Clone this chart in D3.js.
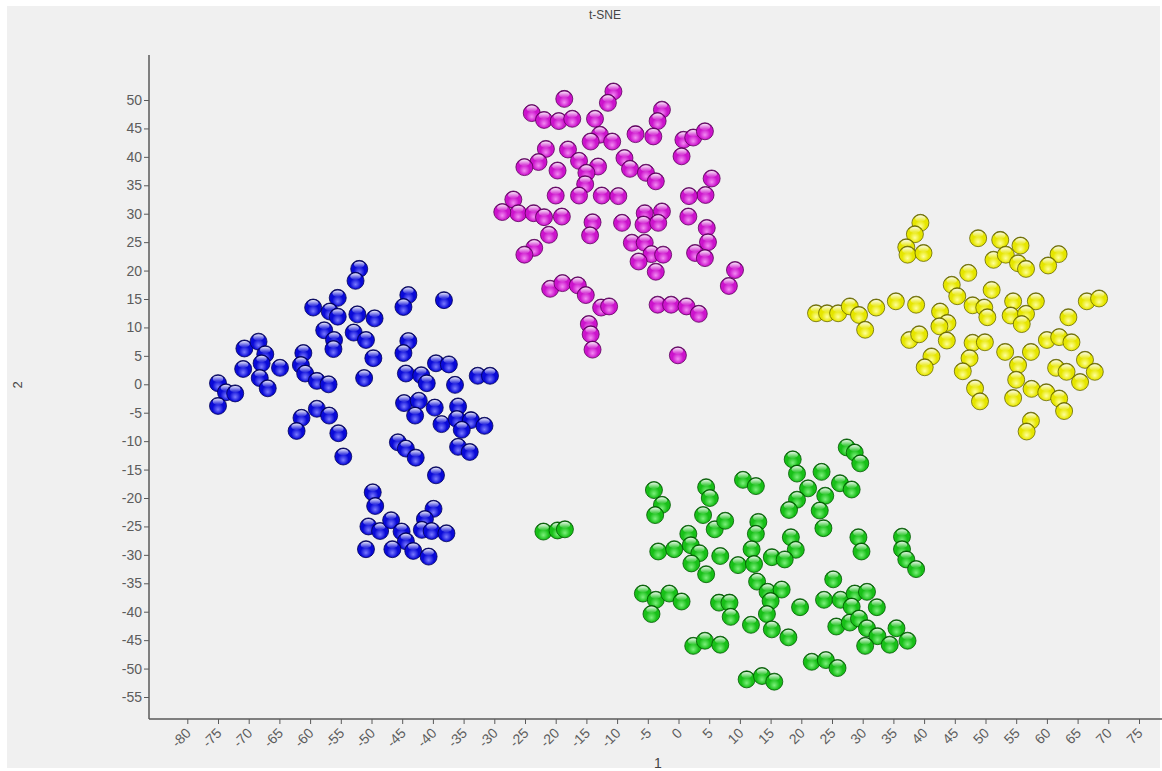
<!DOCTYPE html>
<html>
<head>
<meta charset="utf-8">
<script src="https://cdn.jsdelivr.net/npm/d3@7"></script>
<style>
  html, body { margin: 0; padding: 0; background: #ffffff; }
  svg { display: block; }
  text { font-family: "Liberation Sans", "DejaVu Sans", sans-serif; }
</style>
</head>
<body>
<svg id="chart" width="1162" height="771"></svg>
<script>
// t-SNE embedding, four groups: [dimension 1, dimension 2]
const blueX = [-52.0,-52.6,-55.5,-59.5,-56.8,-55.5,-52.3,-49.5,-57.7,-52.9,-50.9,-56.1,-56.2,-49.7,-44.0,-44.8,-38.2,-44.0,-44.8,-70.7,-68.4,-67.3,-67.9,-70.9,-64.9,-68.2,-66.9,-61.1,-61.5,-60.8,-58.9,-57.0,-75.0,-73.7,-72.2,-75.0,-51.2,-44.4,-41.9,-41.0,-39.5,-37.4,-36.4,-32.7,-30.7,-44.7,-42.3,-42.9,-39.7,-35.9,-38.6,-36.1,-33.8,-31.6,-35.3,-35.9,-34.0,-45.7,-44.4,-42.8,-39.5,-61.4,-58.9,-56.9,-62.2,-55.4,-54.6,-49.8,-49.4,-39.9,-41.3,-50.5,-48.6,-46.8,-45.1,-44.4,-41.8,-40.2,-37.8,-50.9,-46.6,-43.2,-40.7];
const blueY = [20.3,18.2,15.2,13.5,12.8,11.9,12.3,11.6,9.5,9.1,7.8,7.8,6.2,4.6,15.7,13.6,14.8,7.6,5.5,6.3,7.5,5.3,3.7,2.7,2.9,1.1,-0.7,5.5,3.4,1.9,0.6,0.0,0.2,-1.4,-1.6,-3.8,1.1,1.9,1.6,0.2,3.7,3.5,-0.1,1.5,1.5,-3.3,-2.9,-5.5,-4.1,-3.9,-7.0,-6.1,-6.3,-7.3,-8.0,-11.0,-11.9,-10.2,-11.3,-12.9,-16.0,-5.9,-4.3,-5.5,-8.2,-8.6,-12.7,-19.0,-21.4,-21.9,-23.7,-25.0,-25.8,-23.9,-25.9,-27.6,-25.6,-25.8,-26.2,-29.0,-29.0,-29.3,-30.3];

const magentaX = [-18.6,-10.6,-11.5,-23.9,-21.9,-19.5,-17.3,-13.6,-2.7,-3.4,-7.0,-4.1,-12.8,-14.3,-10.8,0.8,2.4,4.3,0.5,-21.6,-22.8,-25.1,-19.7,-18.0,-16.2,-13.1,-15.0,-15.2,-8.8,-7.9,-5.3,-3.7,5.4,4.4,1.7,-20.0,-16.2,-12.5,-9.8,-26.9,-26.1,-28.7,-23.6,-21.9,-19.0,-21.1,-23.5,-25.1,-14.0,-14.4,-9.2,-5.5,-2.7,-5.7,-3.3,1.6,4.6,4.8,2.7,4.3,-7.6,-5.5,-4.4,-2.5,-6.5,-3.7,-20.9,-18.9,-16.4,-15.1,-12.6,-11.3,-14.6,-14.3,-14.0,-3.4,-1.2,1.3,3.3,-0.1,8.2,9.2];
const magentaY = [50.2,51.5,49.5,47.7,46.5,46.3,46.7,46.7,48.3,46.3,44.0,43.6,43.9,42.7,42.7,43.0,43.4,44.5,40.1,41.4,39.1,38.2,37.6,41.3,39.3,38.3,37.2,35.2,39.8,37.9,37.2,35.7,36.2,33.3,33.1,33.2,33.2,33.2,33.1,32.5,30.1,30.3,30.1,29.4,29.5,26.3,24.0,22.8,28.5,26.2,28.4,30.1,30.4,28.1,28.4,29.5,27.5,25.0,23.1,22.2,24.9,24.9,22.9,22.8,21.6,19.8,16.8,17.8,17.4,15.7,13.5,13.7,10.6,8.8,6.1,14.0,14.0,13.7,12.4,5.1,17.3,20.1];

const yellowX = [39.4,38.5,37.1,37.3,39.9,48.8,52.4,55.7,51.3,53.3,55.3,56.6,61.9,60.2,47.2,44.5,45.4,51.0,47.9,49.8,50.3,54.5,58.2,54.1,56.6,55.9,66.5,68.5,63.5,22.4,24.2,26.0,27.9,29.4,32.2,30.4,35.4,38.7,42.6,43.8,42.5,43.7,37.6,39.2,41.2,40.1,47.9,49.9,47.4,46.3,48.3,49.1,53.2,57.4,55.3,55.0,54.5,57.5,59.9,62.0,62.8,60.0,62.0,64.0,61.5,63.2,66.2,67.8,65.4,57.4,56.7];
const yellowY = [28.4,26.4,24.1,22.8,23.1,25.7,25.4,24.4,21.9,22.8,21.3,20.3,22.9,20.9,19.6,17.5,15.5,16.6,13.9,13.5,11.8,14.6,14.6,12.1,12.4,10.6,14.6,15.1,11.8,12.5,12.5,12.5,13.7,12.2,13.5,9.6,14.6,14.0,12.8,10.8,10.2,7.7,7.8,8.8,4.9,3.0,7.3,7.4,4.6,2.3,-0.7,-3.0,5.7,5.7,3.4,0.8,-2.4,-0.8,-1.4,-2.5,-4.7,7.8,8.3,7.4,2.9,2.2,4.3,2.2,0.4,-6.4,-8.3];

const greenX = [-22.0,-19.7,-18.5,-4.0,-2.7,-3.8,4.5,5.1,4.0,5.9,7.6,10.5,12.6,18.6,19.3,23.3,21.1,19.3,18.0,23.9,23.0,23.6,26.3,28.2,27.4,28.7,29.6,29.3,29.8,36.4,36.4,37.1,38.7,13.0,12.6,18.3,19.1,11.9,15.2,17.3,9.7,12.3,1.6,2.0,3.4,-3.3,-0.7,2.1,4.5,6.8,12.8,14.5,16.8,15.0,14.4,11.8,15.2,17.9,19.8,25.2,23.7,26.4,28.7,30.7,28.2,32.3,25.7,27.9,29.4,30.7,32.4,30.4,34.4,35.5,37.3,-5.8,-3.7,-1.5,0.5,-4.4,6.6,8.3,8.5,2.4,4.3,6.8,21.7,24.0,25.9,11.1,13.6,15.6];
const greenY = [-25.9,-25.7,-25.5,-18.6,-21.2,-23.0,-18.1,-20.0,-23.0,-25.5,-24.0,-16.8,-17.9,-13.2,-15.7,-15.4,-18.3,-20.3,-22.1,-19.6,-22.2,-25.3,-17.4,-18.5,-11.1,-12.0,-13.9,-26.9,-29.4,-26.8,-29.0,-30.8,-32.5,-24.2,-26.3,-26.9,-29.1,-29.0,-30.4,-30.8,-31.8,-31.6,-26.3,-28.3,-29.7,-29.4,-29.0,-31.5,-33.4,-30.2,-34.7,-36.5,-36.1,-38.1,-40.4,-42.3,-43.1,-44.5,-39.2,-34.3,-37.9,-37.9,-36.8,-36.5,-39.1,-39.2,-42.6,-41.9,-41.2,-42.9,-44.3,-46.0,-45.8,-42.9,-45.1,-36.8,-37.9,-36.8,-38.2,-40.4,-38.4,-38.4,-40.9,-46.0,-45.1,-45.8,-48.8,-48.5,-49.9,-51.9,-51.3,-52.3];

// Axis ticks
const xTicks = d3.range(-80, 80, 5);
const yTicks = d3.range(-55, 55, 5);

const chartTitle = "t-SNE";
const xTitle = "1";
const yTitle = "2";

const groups = [
  { name: "blue",    xs: blueX,    ys: blueY,    light: "#7a7aff", base: "#0a0ad8", dark: "#00005a" },
  { name: "magenta", xs: magentaX, ys: magentaY, light: "#f38af3", base: "#cc14cc", dark: "#5e005e" },
  { name: "yellow",  xs: yellowX,  ys: yellowY,  light: "#ffff9a", base: "#e6e600", dark: "#6a6a00" },
  { name: "green",   xs: greenX,   ys: greenY,   light: "#7cf07c", base: "#18c018", dark: "#005a00" }
];

const W = 1162, H = 771;
const svg = d3.select("#chart");

// panel background with a thin white frame
svg.append("rect").attr("x", 7).attr("y", 6).attr("width", W - 9).attr("height", H - 9)
  .attr("fill", "#f0f0f0");

const x = d3.scaleLinear().domain([-80, 75]).range([187.3, 1139]);
const y = d3.scaleLinear().domain([-55, 50]).range([697, 100]);

const axisLeft = 149, axisBottom = 719, axisTop = 55, axisRight = 1162;
const axisColor = "#5a5a5a";
const tickFont = 14;
const plainNumber = d => String(d);   // ASCII hyphen for negatives

// sphere gradients
const defs = svg.append("defs");
groups.forEach(g => {
  const rg = defs.append("radialGradient").attr("id", "body-" + g.name)
    .attr("cx", "50%").attr("cy", "62%").attr("r", "58%").attr("fx", "50%").attr("fy", "72%");
  rg.append("stop").attr("offset", "0%").attr("stop-color", g.light);
  rg.append("stop").attr("offset", "55%").attr("stop-color", g.base);
  rg.append("stop").attr("offset", "88%").attr("stop-color", g.base);
  rg.append("stop").attr("offset", "100%").attr("stop-color", g.dark);
});
const hl = defs.append("linearGradient").attr("id", "shine")
  .attr("x1", 0).attr("y1", 0).attr("x2", 0).attr("y2", 1);
hl.append("stop").attr("offset", "0%").attr("stop-color", "#ffffff").attr("stop-opacity", 0.9);
hl.append("stop").attr("offset", "100%").attr("stop-color", "#ffffff").attr("stop-opacity", 0.05);

// axes
const gx = svg.append("g").attr("transform", `translate(0,${axisBottom})`)
  .call(d3.axisBottom(x).tickValues(xTicks).tickFormat(plainNumber).tickSize(5).tickSizeOuter(0));
gx.select(".domain").remove();
gx.selectAll(".tick line").attr("stroke", axisColor);
gx.selectAll(".tick text")
  .attr("fill", "#5c5c5c").attr("font-size", tickFont)
  .attr("text-anchor", "end")
  .attr("x", 0).attr("y", 0).attr("dy", 0)
  .attr("transform", "translate(4,15) rotate(-45)");

const gy = svg.append("g").attr("transform", `translate(${axisLeft},0)`)
  .call(d3.axisLeft(y).tickValues(yTicks).tickFormat(plainNumber).tickSize(5).tickSizeOuter(0).tickPadding(2));
gy.select(".domain").remove();
gy.selectAll(".tick line").attr("stroke", axisColor);
gy.selectAll(".tick text").attr("fill", "#5c5c5c").attr("font-size", tickFont);

svg.append("line").attr("x1", axisLeft).attr("x2", axisLeft).attr("y1", axisTop).attr("y2", axisBottom)
  .attr("stroke", axisColor).attr("stroke-width", 1.5);
svg.append("line").attr("x1", axisLeft).attr("x2", axisRight).attr("y1", axisBottom).attr("y2", axisBottom)
  .attr("stroke", axisColor).attr("stroke-width", 1.5);

// titles
svg.append("text").attr("x", 605).attr("y", 19).attr("text-anchor", "middle")
  .attr("font-size", 12).attr("fill", "#444").text(chartTitle);
svg.append("text").attr("x", 658).attr("y", 768).attr("text-anchor", "middle")
  .attr("font-size", 14).attr("fill", "#444").text(xTitle);
svg.append("text").attr("transform", "translate(22,385) rotate(-90)").attr("text-anchor", "middle")
  .attr("font-size", 13).attr("fill", "#444").text(yTitle);

// points as glossy spheres
const R = 8.5;
groups.forEach(g => {
  const pts = g.xs.map((v, i) => ({ x: v, y: g.ys[i] }));
  const layer = svg.append("g").attr("class", "series-" + g.name);
  const node = layer.selectAll("g").data(pts).join("g")
    .attr("transform", d => `translate(${x(d.x)},${y(d.y)})`);
  node.append("circle").attr("r", R)
    .attr("fill", `url(#body-${g.name})`)
    .attr("stroke", g.dark).attr("stroke-width", 0.8);
  node.append("ellipse").attr("cx", 0).attr("cy", -R * 0.5)
    .attr("rx", R * 0.62).attr("ry", R * 0.38)
    .attr("fill", "url(#shine)");
});
</script>
</body>
</html>
